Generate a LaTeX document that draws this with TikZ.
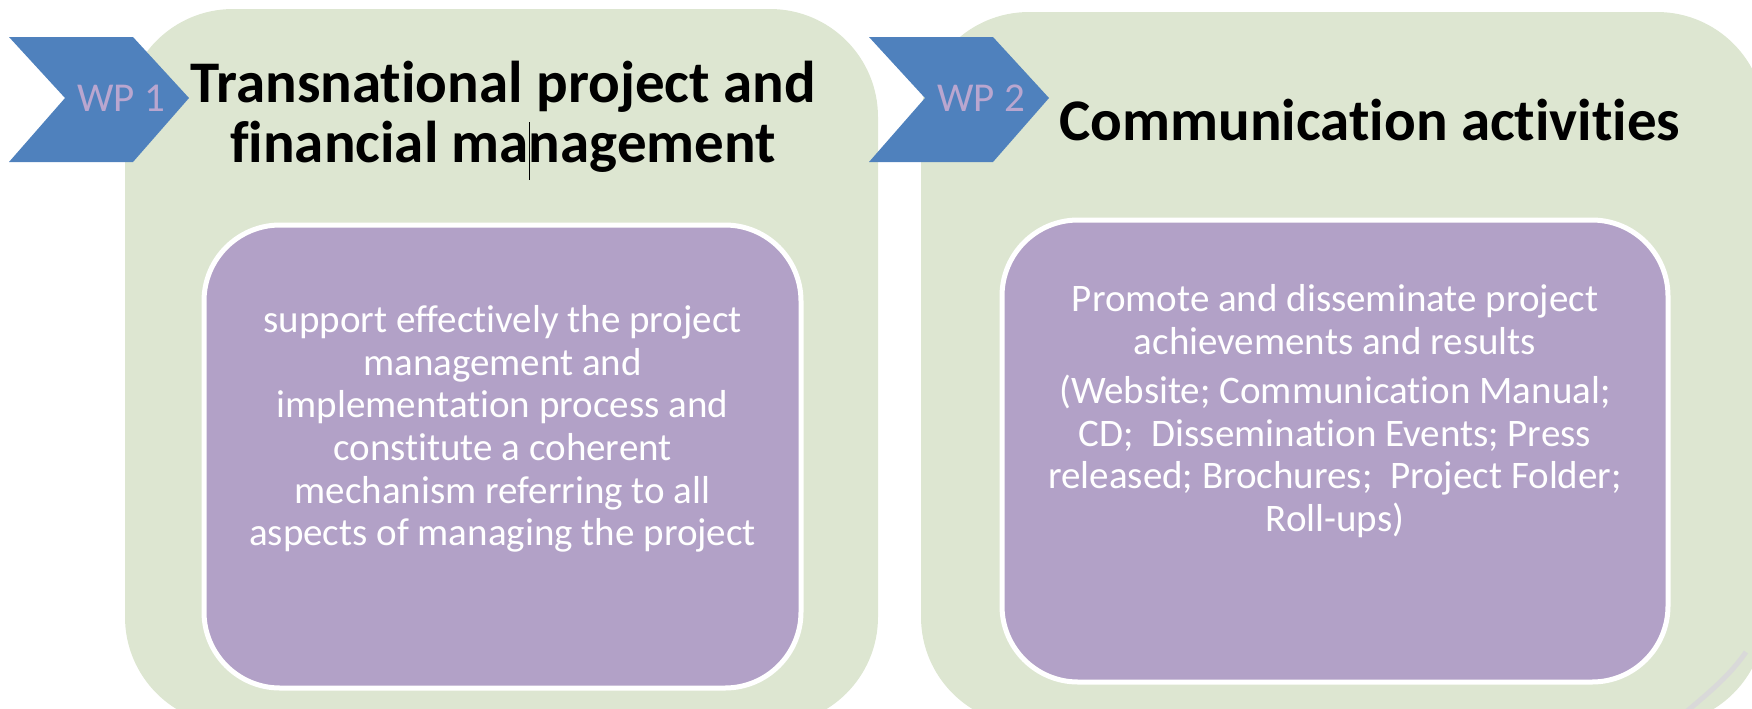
\documentclass[tikz,border=0pt]{standalone}
\usepackage{fontspec}
\setmainfont{Carlito}[Ligatures={NoCommon}]
\definecolor{gfill}{HTML}{DDE6D1}
\definecolor{pfill}{HTML}{B2A1C7}
\definecolor{chevblue}{HTML}{4F81BD}
\definecolor{wptext}{HTML}{B9A6CF}
\definecolor{faintgray}{HTML}{D9D9D9}
\begin{document}
\begin{tikzpicture}[x=0.5pt,y=-0.5pt,
  greenbox/.style={fill=gfill, draw=none, rounded corners=54pt, inner sep=0pt},
  purplebox/.style={fill=pfill, draw=white, line width=2.5pt, rounded corners=38pt, inner sep=0pt},
  chev/.style={fill=chevblue, draw=none},
  wplabel/.style={text=wptext, font=\fontsize{20.5}{22}\selectfont, inner sep=0pt},
  title/.style={text=black, align=center, font=\fontsize{29.5}{30}\selectfont\bfseries, inner sep=0pt},
  body/.style={text=white, align=center, font=\fontsize{19.5}{21.3}\selectfont, inner sep=0pt}]
\useasboundingbox (0,0) rectangle (1752,708);
% green panels
\node[greenbox, minimum width=376.5pt, minimum height=358pt] (g1) at (501.5,367) {};
\node[greenbox, minimum width=422pt, minimum height=356.5pt] (g2) at (1343,368.5) {};
% purple boxes
\node[purplebox, minimum width=298.5pt, minimum height=231.5pt] (p1) at (502.5,456.5) {};
\node[purplebox, minimum width=333pt, minimum height=231pt] (p2) at (1335,451) {};
% chevrons
\fill[chev] (9,37) -- (133,37) -- (189,98) -- (133,162) -- (9,162) -- (65,98) -- cycle;
\fill[chev] (869,37) -- (993,37) -- (1049,98) -- (993,162) -- (869,162) -- (925,98) -- cycle;
\node[wplabel] (wp1) at (121,98) {WP 1};
\node[wplabel] (wp2) at (981,98) {WP 2};
% titles
\node[title] (t1) at (503,117) {Transnational project and\\financial management};
\node[title] (t2) at (1370,120) {Communication activities};
\draw[black, line width=0.5pt] (529,122) -- (529,180);
% body texts
\node[body] (b1) at (502.5,429) {support effectively the project\\management and\\implementation process and\\constitute a coherent\\mechanism referring to all\\aspects of managing the project};
\node[body] (b2) at (1335,411) {Promote and disseminate project\\achievements and results\\[3.5pt](Website; Communication Manual;\\CD;\ \ Dissemination Events; Press\\released; Brochures;\ \ Project Folder;\\Roll-ups)};
% faint gray fragment
\draw[faintgray, line width=2.5pt] (1686,712) .. controls (1712,690) and (1730,675) .. (1746,652);
\end{tikzpicture}
\end{document}
